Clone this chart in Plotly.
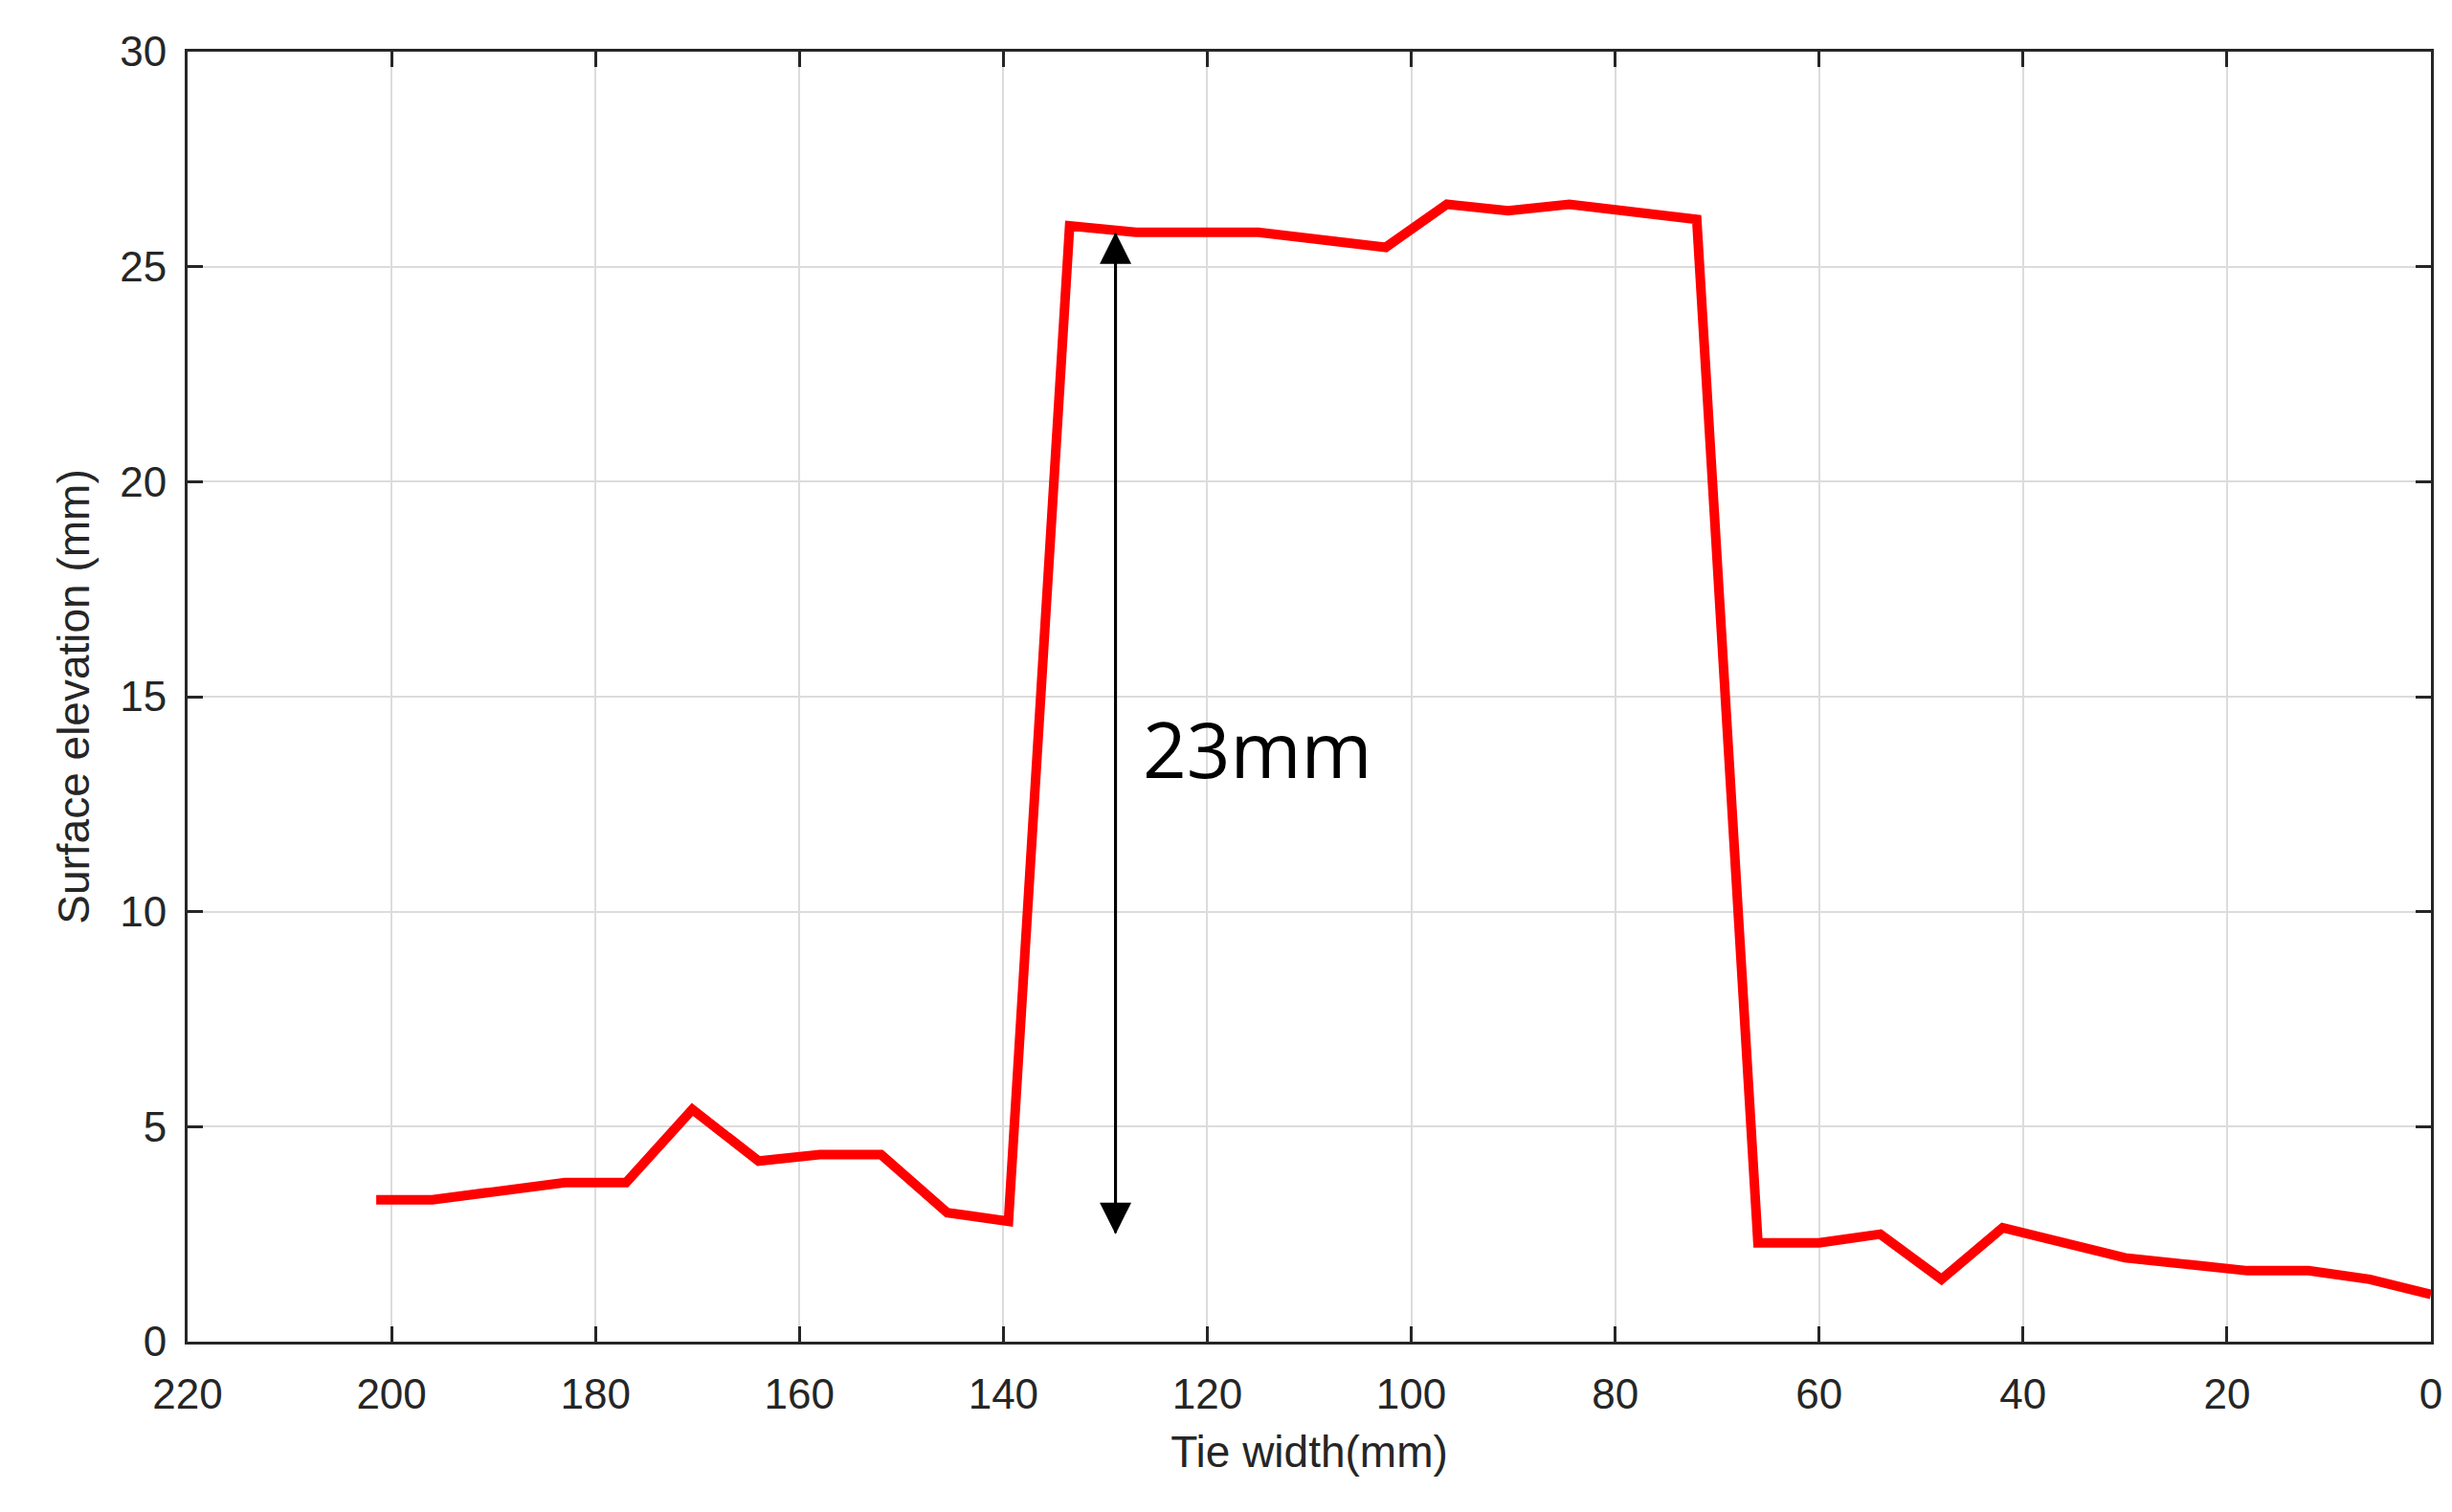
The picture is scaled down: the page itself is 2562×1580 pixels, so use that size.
import plotly.graph_objects as go

x = [201.5,196,183,177,170.5,164,158,152,145.5,139.5,133.5,127,115,102.5,96.5,90.5,84.5,72,66,60,54,48,42,30,24,18,12,6,0]
y = [3.3,3.3,3.7,3.7,5.4,4.2,4.35,4.35,3.0,2.8,25.95,25.8,25.8,25.45,26.45,26.3,26.45,26.1,2.3,2.3,2.5,1.45,2.65,1.95,1.8,1.65,1.65,1.45,1.1]
arrow_x = 129
arrow_top, arrow_bottom = 25.8, 2.5
label = "23mm"

fig = go.Figure(go.Scatter(x=x, y=y, mode="lines", line=dict(color="#ff0000", width=10)))
ax = dict(showline=True, linecolor="#262626", linewidth=3, mirror="ticks", ticks="inside", ticklen=16,
          tickwidth=2.5, tickcolor="#262626", showgrid=True, gridcolor="#dcdcdc", gridwidth=2, zeroline=False,
          tickfont=dict(family="Arial", size=44, color="#262626"))
fig.update_xaxes(range=[220, 0], dtick=20, ticklabelstandoff=14,
                 title=dict(text="Tie width(mm)", font=dict(family="Arial", size=46, color="#262626"), standoff=22), **ax)
fig.update_yaxes(range=[0, 30], dtick=5, ticklabelstandoff=10,
                 title=dict(text="Surface elevation (mm)", font=dict(family="Arial", size=46, color="#262626"), standoff=18), **ax)
for yh, yt in [(arrow_top, arrow_bottom), (arrow_bottom, arrow_top)]:
    fig.add_annotation(x=arrow_x, y=yh, ax=arrow_x, ay=yt, xref="x", yref="y", axref="x", ayref="y",
                       showarrow=True, arrowhead=2, arrowsize=2.2, arrowwidth=3, arrowcolor="black", text="")
fig.add_annotation(x=126.5, y=13.8, text=label, showarrow=False, xanchor="left",
                   font=dict(family="Open Sans", size=80, color="black"))
fig.update_layout(width=2562, height=1580, plot_bgcolor="white", paper_bgcolor="white", showlegend=False,
                  margin=dict(l=188, r=30, t=46, b=186))
fig.write_html("out.html")
